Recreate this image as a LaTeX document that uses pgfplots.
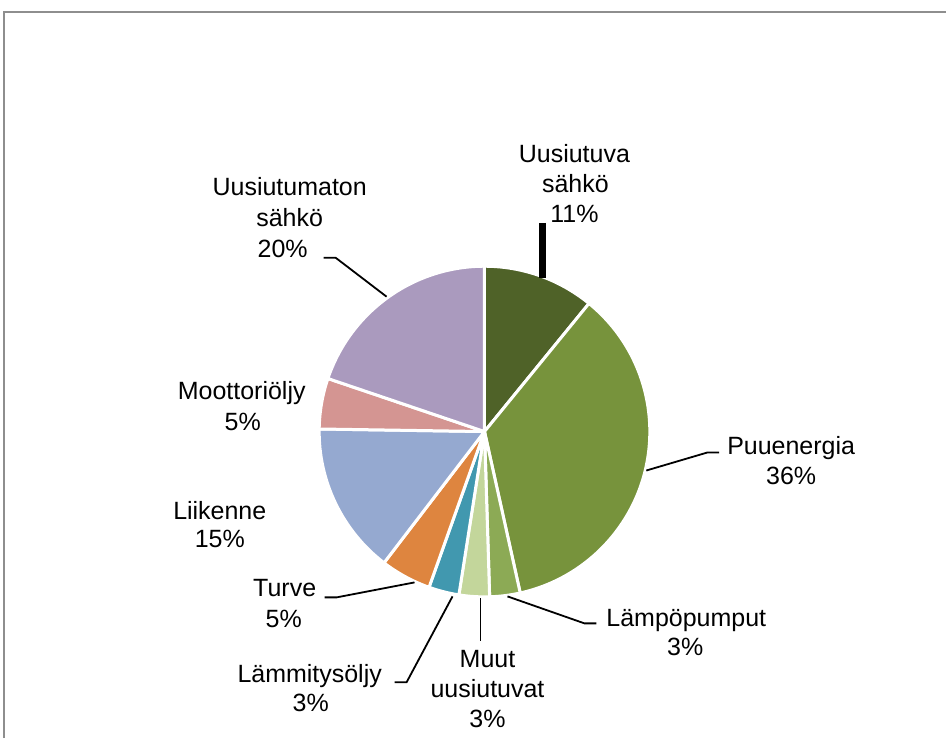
\documentclass[border=0pt]{standalone}
\usepackage{pgfplots}
\pgfplotsset{compat=1.18}
\usepackage{fontspec}
\setmainfont{Liberation Sans}
\definecolor{cA}{HTML}{4F6228}
\definecolor{cB}{HTML}{77933C}
\definecolor{cC}{HTML}{8CAA55}
\definecolor{cD}{HTML}{C3D69B}
\definecolor{cE}{HTML}{4198AF}
\definecolor{cF}{HTML}{DE853F}
\definecolor{cG}{HTML}{95A9D0}
\definecolor{cH}{HTML}{D49592}
\definecolor{cI}{HTML}{AA9ABE}
\definecolor{frame}{HTML}{8E8E8E}
% #1 cumulative value before the slice, #2 slice value, #3 colour
\newcommand\slice[3]{%
  \pgfmathsetmacro\sa{90-(#1)/101*360}%
  \pgfmathsetmacro\ea{90-(#1+#2)/101*360}%
  \edef\doslice{\noexpand\fill[#3, draw=white, line width=3pt, line join=round]
    (axis cs:485,432) -- ++(\sa:165.5pt) arc[start angle=\sa, end angle=\ea, radius=165.5pt] -- cycle;}%
  \doslice}
\newcommand\lab[3]{\node[anchor=base, inner sep=0pt, font=\fontsize{25}{30}\selectfont] at (axis cs:#1,#2) {#3};}
\begin{document}
\begin{tikzpicture}
\begin{axis}[
  scale only axis, width=947pt, height=739pt,
  xmin=0, xmax=947, ymin=0, ymax=739, y dir=reverse,
  hide axis, clip=false]
\path (axis cs:0,0) (axis cs:947,739);
% frame
\draw[frame, line width=2pt] (axis cs:4.5,739) -- (axis cs:4.5,12.5) -- (axis cs:947,12.5);
% slices (values in percent, clockwise from top)
\slice{0}{11}{cA}   % Uusiutuva sähkö
\slice{11}{36}{cB}  % Puuenergia
\slice{47}{3}{cC}   % Lämpöpumput
\slice{50}{3}{cD}   % Muut uusiutuvat
\slice{53}{3}{cE}   % Lämmitysöljy
\slice{56}{5}{cF}   % Turve
\slice{61}{15}{cG}  % Liikenne
\slice{76}{5}{cH}   % Moottoriöljy
\slice{81}{20}{cI}  % Uusiutumaton sähkö
% leader lines
\draw[black, line width=6.5pt] (axis cs:543,223) -- (axis cs:543,278);
\draw[black, line width=1.8pt] (axis cs:324,258) -- (axis cs:336,258) -- (axis cs:387,297);
\draw[black, line width=1.8pt] (axis cs:647,471) -- (axis cs:708,453) -- (axis cs:720,453);
\draw[black, line width=1.8pt] (axis cs:508,597) -- (axis cs:585,624) -- (axis cs:597,624);
\draw[black, line width=1.8pt] (axis cs:481,599) -- (axis cs:481,642);
\draw[black, line width=1.8pt] (axis cs:453,597) -- (axis cs:407,683) -- (axis cs:395,683);
\draw[black, line width=1.8pt] (axis cs:415,583) -- (axis cs:337,598) -- (axis cs:325,598);
% labels
\lab{575}{163}{Uusiutuva}
\lab{576}{193}{sähkö}
\lab{575}{223}{11\%}
\lab{792}{455}{Puuenergia}
\lab{792}{485}{36\%}
\lab{687}{627}{Lämpöpumput}
\lab{686}{656}{3\%}
\lab{488}{668}{Muut}
\lab{488}{698}{uusiutuvat}
\lab{488}{728}{3\%}
\lab{310}{683}{Lämmitysöljy}
\lab{311}{712}{3\%}
\lab{285}{597}{Turve}
\lab{284}{628}{5\%}
\lab{220}{520}{Liikenne}
\lab{220}{548}{15\%}
\lab{242}{400}{Moottoriöljy}
\lab{243}{431}{5\%}
\lab{290}{196}{Uusiutumaton}
\lab{290}{227}{sähkö}
\lab{283}{258}{20\%}
\end{axis}
\end{tikzpicture}
\end{document}
